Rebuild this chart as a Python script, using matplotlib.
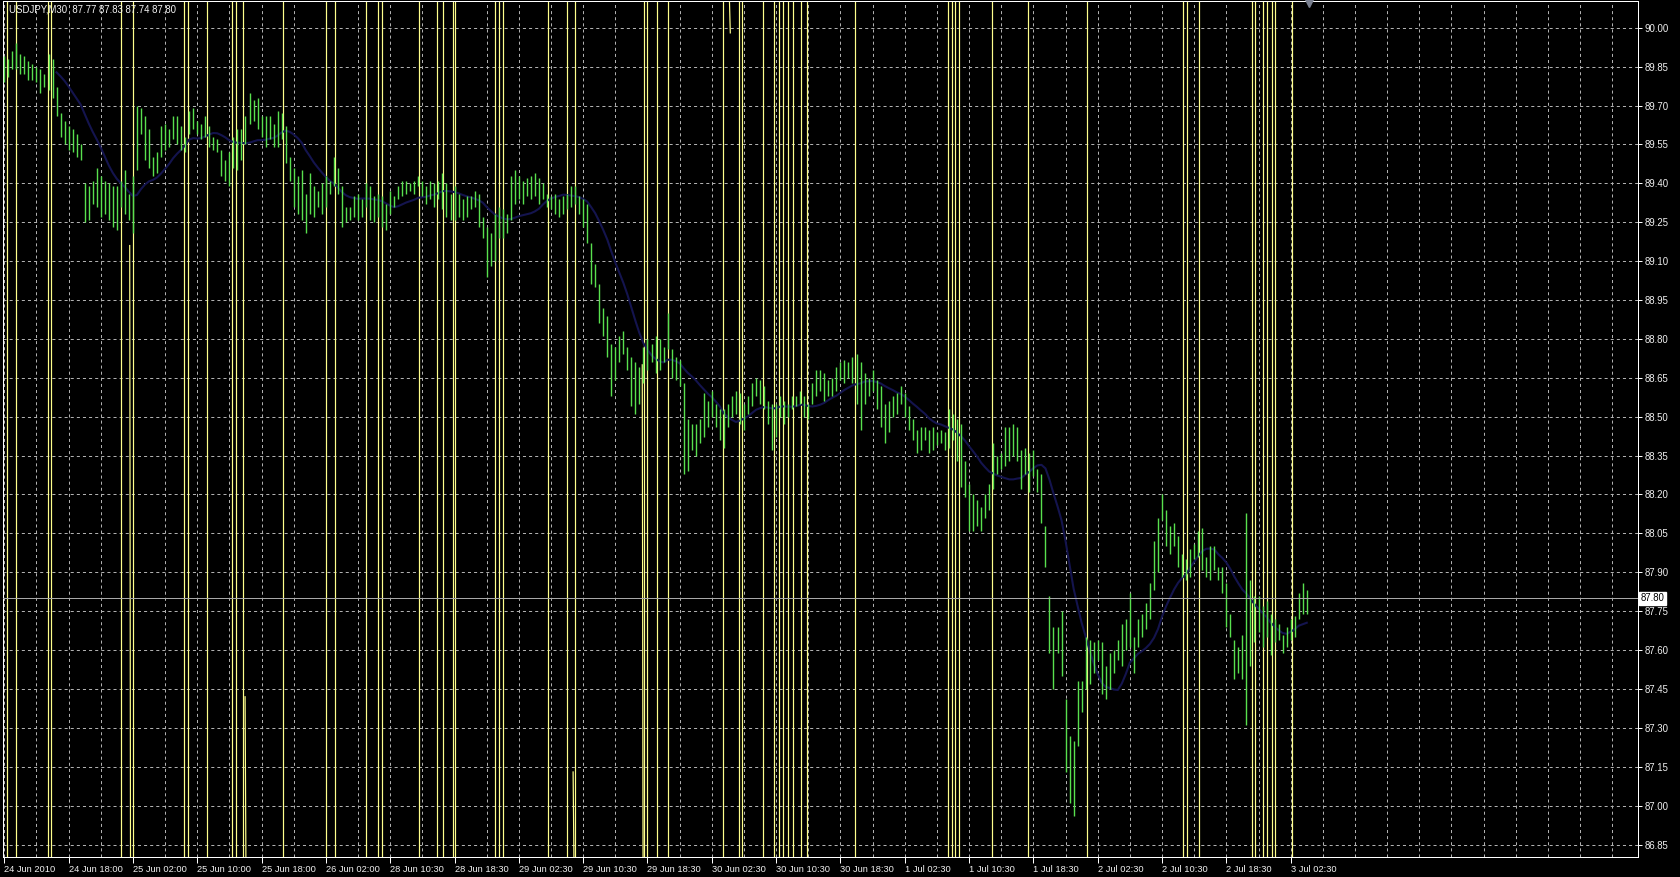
import matplotlib
matplotlib.use("Agg")
import matplotlib.pyplot as plt
from matplotlib.ticker import MultipleLocator, FormatStrFormatter
import numpy as np
import pandas as pd

# USDJPY M30 bars, highs and lows (bar index 0 = 24 Jun 2010)
highs = [
    89.89, 89.88, 89.91, 89.94, 89.90, 89.89, 89.87, 89.86, 89.85, 89.84,
    89.82, 89.90, 89.88, 89.77, 89.67, 89.64, 89.62, 89.61, 89.59, 89.55,
    89.40, 89.39, 89.41, 89.46, 89.43, 89.41, 89.40, 89.39, 89.39, 89.41,
    89.45, 89.36, 89.43, 89.70, 89.69, 89.66, 89.61, 89.50, 89.52, 89.62,
    89.63, 89.61, 89.66, 89.66, 89.62, 89.58, 89.68, 89.69, 89.64, 89.63,
    89.66, 89.62, 89.58, 89.57, 89.53, 89.49, 89.52, 89.58, 89.61, 89.61,
    89.66, 89.75, 89.72, 89.73, 89.66, 89.66, 89.66, 89.63, 89.68, 89.67,
    89.62, 89.50, 89.46, 89.43, 89.45, 89.36, 89.44, 89.39, 89.37, 89.40,
    89.43, 89.41, 89.50, 89.46, 89.39, 89.31, 89.31, 89.35, 89.36, 89.34,
    89.40, 89.39, 89.35, 89.36, 89.35, 89.32, 89.37, 89.35, 89.39, 89.41,
    89.41, 89.40, 89.41, 89.43, 89.41, 89.39, 89.41, 89.40, 89.41, 89.44,
    89.40, 89.36, 89.39, 89.36, 89.34, 89.35, 89.35, 89.37, 89.36, 89.27,
    89.23, 89.21, 89.28, 89.31, 89.30, 89.28, 89.43, 89.45, 89.43, 89.41,
    89.42, 89.43, 89.44, 89.42, 89.40, 89.36, 89.35, 89.36, 89.34, 89.35,
    89.36, 89.39, 89.39, 89.35, 89.34, 89.32, 89.17, 89.09, 89.01, 88.92,
    88.89, 88.78, 88.77, 88.81, 88.83, 88.77, 88.73, 88.71, 88.69, 88.77,
    88.80, 88.78, 88.81, 88.80, 88.77, 88.90, 88.76, 88.73, 88.72, 88.63,
    88.49, 88.47, 88.47, 88.49, 88.59, 88.56, 88.60, 88.55, 88.53, 88.53,
    88.55, 88.58, 88.60, 88.59, 88.55, 88.58, 88.63, 88.65, 88.64, 88.62,
    88.56, 88.55, 88.55, 88.58, 88.56, 88.55, 88.58, 88.58, 88.60, 88.58,
    88.55, 88.63, 88.68, 88.68, 88.67, 88.64, 88.65, 88.69, 88.71, 88.72,
    88.71, 88.73, 88.74, 88.71, 88.67, 88.65, 88.68, 88.64, 88.62, 88.55,
    88.56, 88.58, 88.59, 88.62, 88.59, 88.54, 88.49, 88.45, 88.46, 88.46,
    88.45, 88.46, 88.44, 88.45, 88.44, 88.53, 88.51, 88.49, 88.47, 88.33,
    88.24, 88.20, 88.18, 88.15, 88.20, 88.24, 88.40, 88.35, 88.36, 88.46,
    88.46, 88.47, 88.46, 88.37, 88.38, 88.36, 88.37, 88.30, 88.28, 88.08,
    87.81, 87.69, 87.69, 87.75, 87.41, 87.27, 87.25, 87.48, 87.48, 87.65,
    87.64, 87.63, 87.64, 87.63, 87.54, 87.59, 87.60, 87.64, 87.70, 87.72,
    87.82, 87.65, 87.72, 87.74, 87.78, 87.86, 88.02, 88.11, 88.20, 88.14,
    88.08, 88.09, 88.04, 87.97, 87.95, 87.99, 88.01, 88.06, 88.07, 87.96,
    88.00, 88.00, 87.92, 87.92, 87.86, 87.74, 87.64, 87.61, 87.66, 88.13,
    87.87, 87.81, 87.81, 87.77, 87.79, 87.74, 87.72, 87.70, 87.66, 87.69,
    87.72, 87.73, 87.82, 87.86, 87.83,
]
lows = [
    89.79, 89.81, 89.84, 89.84, 89.82, 89.82, 89.80, 89.80, 89.79, 89.75,
    89.77, 89.76, 89.73, 89.66, 89.58, 89.55, 89.53, 89.52, 89.50, 89.49,
    89.25, 89.26, 89.32, 89.31, 89.27, 89.28, 89.26, 89.23, 89.22, 89.31,
    89.28, 89.26, 89.21, 89.45, 89.59, 89.49, 89.46, 89.43, 89.44, 89.50,
    89.53, 89.54, 89.57, 89.55, 89.53, 89.52, 89.59, 89.61, 89.59, 89.57,
    89.58, 89.54, 89.53, 89.52, 89.43, 89.41, 89.39, 89.46, 89.45, 89.49,
    89.55, 89.63, 89.64, 89.61, 89.58, 89.54, 89.57, 89.54, 89.54, 89.57,
    89.48, 89.41, 89.31, 89.28, 89.26, 89.21, 89.28, 89.27, 89.31, 89.28,
    89.31, 89.36, 89.39, 89.36, 89.23, 89.25, 89.26, 89.27, 89.26, 89.27,
    89.31, 89.26, 89.25, 89.27, 89.23, 89.22, 89.28, 89.31, 89.34, 89.35,
    89.36, 89.37, 89.36, 89.39, 89.35, 89.32, 89.34, 89.31, 89.34, 89.30,
    89.27, 89.26, 89.26, 89.27, 89.26, 89.27, 89.30, 89.31, 89.23, 89.19,
    89.04, 89.08, 89.10, 89.19, 89.19, 89.21, 89.26, 89.32, 89.34, 89.32,
    89.35, 89.34, 89.35, 89.32, 89.34, 89.31, 89.30, 89.28, 89.27, 89.28,
    89.30, 89.31, 89.32, 89.28, 89.23, 89.17, 89.01, 89.00, 88.86, 88.81,
    88.73, 88.58, 88.64, 88.71, 88.74, 88.68, 88.54, 88.51, 88.55, 88.63,
    88.68, 88.71, 88.67, 88.68, 88.71, 88.76, 88.65, 88.64, 88.62, 88.28,
    88.29, 88.37, 88.35, 88.40, 88.42, 88.46, 88.50, 88.46, 88.41, 88.38,
    88.46, 88.50, 88.51, 88.47, 88.45, 88.51, 88.54, 88.58, 88.55, 88.53,
    88.47, 88.37, 88.42, 88.50, 88.47, 88.50, 88.53, 88.54, 88.55, 88.50,
    88.49, 88.55, 88.58, 88.60, 88.56, 88.58, 88.58, 88.60, 88.64, 88.63,
    88.65, 88.63, 88.55, 88.45, 88.55, 88.58, 88.60, 88.53, 88.46, 88.40,
    88.44, 88.50, 88.51, 88.55, 88.50, 88.45, 88.41, 88.36, 88.37, 88.41,
    88.36, 88.37, 88.39, 88.40, 88.37, 88.38, 88.41, 88.33, 88.23, 88.19,
    88.06, 88.06, 88.08, 88.06, 88.11, 88.14, 88.22, 88.28, 88.30, 88.31,
    88.33, 88.35, 88.33, 88.22, 88.28, 88.21, 88.27, 88.21, 88.09, 87.92,
    87.59, 87.45, 87.59, 87.50, 87.13, 87.01, 86.96, 87.23, 87.36, 87.45,
    87.47, 87.51, 87.56, 87.43, 87.41, 87.45, 87.51, 87.56, 87.54, 87.60,
    87.61, 87.51, 87.61, 87.65, 87.68, 87.72, 87.83, 87.90, 88.10, 88.00,
    87.97, 88.00, 87.92, 87.88, 87.87, 87.88, 87.95, 87.96, 87.91, 87.88,
    87.87, 87.91, 87.87, 87.82, 87.69, 87.65, 87.49, 87.51, 87.49, 87.31,
    87.54, 87.63, 87.67, 87.61, 87.65, 87.58, 87.63, 87.64, 87.59, 87.61,
    87.64, 87.65, 87.72, 87.74, 87.74,
]

# bottom axis labels, one every 16 bars
time_labels = ["24 Jun 2010", "24 Jun 18:00", "25 Jun 02:00", "25 Jun 10:00",
               "25 Jun 18:00", "26 Jun 02:00", "28 Jun 10:30", "28 Jun 18:30",
               "29 Jun 02:30", "29 Jun 10:30", "29 Jun 18:30", "30 Jun 02:30",
               "30 Jun 10:30", "30 Jun 18:30", "1 Jul 02:30", "1 Jul 10:30",
               "1 Jul 18:30", "2 Jul 02:30", "2 Jul 10:30", "2 Jul 18:30",
               "3 Jul 02:30"]

# vertical line objects on the chart, in bar positions
vlines_at = [0.6, 2.8, 10.8, 11.6, 29.0, 31.9, 44.8, 45.8, 50.5, 56.6, 57.6,
             59.5, 69.4, 80.0, 82.3, 90.0, 92.9, 94.0, 103.2, 107.6, 109.1,
             111.5, 112.1, 122.1, 123.1, 124.1, 135.3, 140.1, 141.9, 159.2,
             159.8, 162.3, 165.0, 178.9, 182.8, 183.4, 188.7, 191.5, 192.8,
             193.8, 194.9, 196.1, 198.1, 199.6, 211.6, 234.7, 235.7, 236.5,
             237.4, 245.6, 254.6, 269.4, 293.3, 294.3, 297.3, 310.5, 311.1,
             313.2, 314.2, 315.3, 316.2, 320.3]

# steep trend line pieces: (bar, price from, price to)
trend_pieces = [(31.2, 89.16, 86.80), (59.9, 87.42, 86.80), (141.5, 87.13, 86.80),
                (158.7, 88.70, 86.80), (180.4, 90.10, 89.98)]

title_text = "USDJPY,M30  87.77 87.83 87.74 87.80"
last_price = 87.80

plt.rcParams['font.family'] = ['Liberation Sans', 'DejaVu Sans']
plt.rcParams['lines.scale_dashes'] = False

W, H = 1680, 877
fig = plt.figure(figsize=(W / 100, H / 100), dpi=100, facecolor='black')
ax = fig.add_axes([3 / W, 20 / H, 1635 / W, 856 / H], facecolor='black')

idx = np.arange(len(highs))
px = 0.72  # one pixel in points

# vertical lines
for v in vlines_at:
    ax.axvline(v, color='#ffff8c', lw=1.2 * px, zorder=2)
for b, p0, p1 in trend_pieces:
    ax.plot([b, b + 0.2], [p0, p1], color='#ffff8c', lw=1.2 * px, zorder=2)

# bars
ax.vlines(idx, lows, highs, color='#58e04e', lw=1.4 * px, zorder=3)

# moving average
mid = (pd.Series(highs) + pd.Series(lows)) / 2
ma = mid.rolling(14).mean()
ax.plot(idx, ma, color='#14144e', lw=1.5, zorder=2.5)

# bid line
ax.axhline(last_price, color='#a8a8a8', lw=1.0 * px, zorder=4)

ax.set_xlim(-0.32, 406.4)
ax.set_ylim(86.802, 90.103)

# grid
ax.yaxis.set_major_locator(MultipleLocator(0.15))
ax.yaxis.set_major_formatter(FormatStrFormatter('%.2f'))
ax.xaxis.set_major_locator(MultipleLocator(16))
ax.xaxis.set_minor_locator(MultipleLocator(8))
ax.xaxis.remove_overlapping_locs = False
ax.grid(True, axis='y', which='major', color='#b0b0b0', lw=1.0 * px,
        linestyle=(0, (2.2, 2.2)), zorder=1)
ax.grid(True, axis='x', which='minor', color='#b0b0b0', lw=1.0 * px,
        linestyle=(0, (2.2, 2.2)), zorder=1)
ax.grid(False, axis='x', which='major')

ax.set_xticks(np.arange(len(time_labels)) * 16)
ax.set_xticklabels(time_labels, ha='left')
ax.tick_params(axis='x', which='major', colors='white', labelcolor='#f0f0f0',
               length=4, width=px, pad=1.5, labelsize=6.7)
ax.tick_params(axis='x', which='minor', length=0)

ax.yaxis.tick_right()
ax.tick_params(axis='y', colors='white', labelcolor='#f0f0f0', length=3,
               width=px, pad=2, labelsize=6.9)

for s in ax.spines.values():
    s.set_color('white')
    s.set_linewidth(1.0 * px)

# current price box on the price scale
ax.text(1.0015, last_price, "%.2f" % last_price, transform=ax.get_yaxis_transform(),
        ha='left', va='center', fontsize=6.9, color='black', zorder=6, clip_on=False,
        bbox=dict(boxstyle='square,pad=0.15', fc='white', ec='white'))

# symbol / timeframe caption
ax.text(6 / 1635, 1 - 8 / 856, title_text, transform=ax.transAxes,
        ha='left', va='center', fontsize=6.9, color='#f4f4f4', zorder=6)

# chart shift marker
ax.plot([(1309 - 3) / 1635], [1 - 2 / 856], marker='v', ms=6, color='#7a8090',
        transform=ax.transAxes, clip_on=False, zorder=6)

fig.savefig('out.png', dpi=100, facecolor='black')
